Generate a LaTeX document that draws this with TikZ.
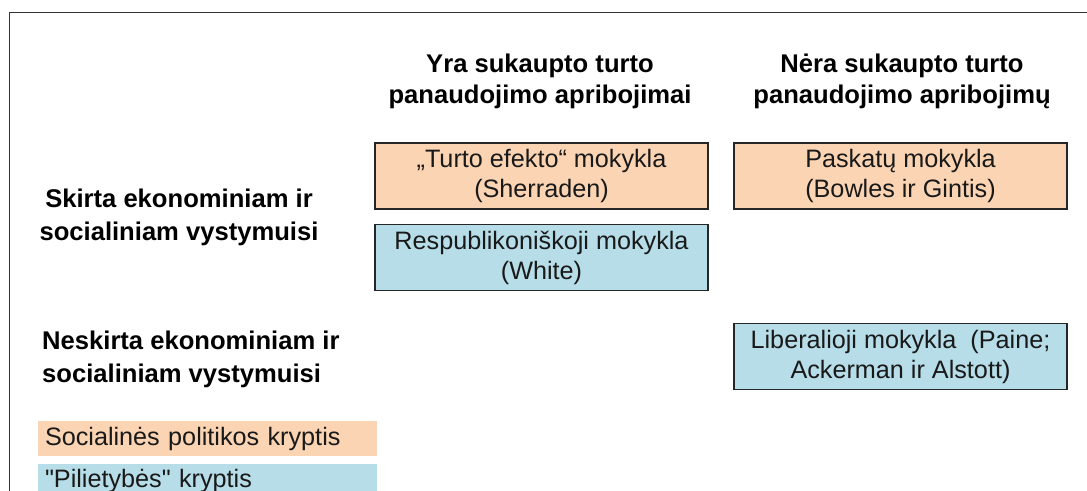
\documentclass[tikz,border=0pt]{standalone}
\usepackage{fontspec}
\setmainfont{Liberation Sans}[Ligatures=TeXOff]
\definecolor{peach}{HTML}{FBD4B4}
\definecolor{aqua}{HTML}{B6DDE8}
\definecolor{framegray}{HTML}{333333}
\begin{document}
\begin{tikzpicture}[x=1pt,y=-1pt,
  head/.style={font=\fontsize{25.6}{31}\selectfont\bfseries, align=center, inner sep=0pt, text=black},
  rowlab/.style={font=\fontsize{25.6}{33}\selectfont\bfseries, inner sep=0pt, text=black},
  school/.style={draw=black!85, line width=1.6pt, minimum width=333pt, minimum height=66pt, inner sep=0pt,
    align=center, font=\fontsize{25.2}{30}\selectfont, text=black!90},
  legend/.style={minimum width=339pt, minimum height=35pt, inner xsep=7pt, inner ysep=0pt,
    text width=325pt, align=left, font=\fontsize{25.2}{30}\selectfont, text=black!90}]
\useasboundingbox (0,0) rectangle (1087,490);
\clip (0,0) rectangle (1087,490);
% outer frame (cropped)
\coordinate (fbl) at (9.5,495);
\coordinate (ftl) at (9.5,12.5);
\coordinate (ftr) at (1090,12.5);
\draw[framegray, line width=1.6pt] (fbl) -- (ftl) -- (ftr);
% column headers
\node[head] (h1) at (540,81) {Yra sukaupto turto\\panaudojimo apribojimai};
\node[head] (h2) at (902,81) {Nėra sukaupto turto\\panaudojimo apribojimų};
% row labels
\node[rowlab, align=center] (r1) at (179,217) {Skirta ekonominiam ir\\socialiniam vystymuisi};
\node[rowlab, align=left, anchor=west] (r2) at (42,359.5) {Neskirta ekonominiam ir\\socialiniam vystymuisi};
% schools
\node[school, fill=peach] (s1) at (541.5,176) {„Turto efekto“ mokykla\\(Sherraden)};
\node[school, fill=aqua] (s2) at (541.5,257.5) {Respublikoniškoji mokykla\\(White)};
\node[school, fill=peach] (s3) at (900.5,176) {Paskatų mokykla\\(Bowles ir Gintis)};
\node[school, fill=aqua] (s4) at (900.5,356.5) {Liberalioji mokykla\ \ (Paine;\\Ackerman ir Alstott)};
% legend
\node[legend, fill=peach] (l1) at (207.5,438.5) {Socialinės politikos kryptis};
\node[legend, fill=aqua] (l2) at (207.5,481) {"Pilietybės" kryptis};
\end{tikzpicture}
\end{document}
